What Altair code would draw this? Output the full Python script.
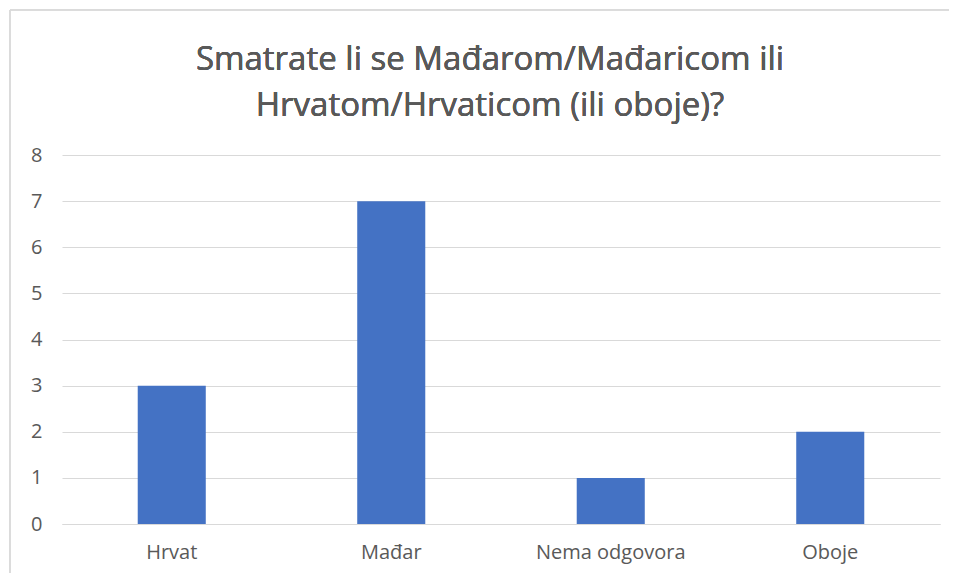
import altair as alt
import pandas as pd

categories = ["Hrvat", "Mađar", "Nema odgovora", "Oboje"]
values = [3, 7, 1, 2]
title_lines = ["Smatrate li se Mađarom/Mađaricom ili", "Hrvatom/Hrvaticom (ili oboje)?"]

df = pd.DataFrame({"cat": categories, "val": values})

FONT = "Open Sans"
GREY = "#595959"

bars = alt.Chart(df).mark_bar(color="#4472c4").encode(
    x=alt.X("cat:N", sort=categories, title=None,
            scale=alt.Scale(paddingInner=0.69, paddingOuter=0.345),
            axis=alt.Axis(labelAngle=0, labelFontSize=20, labelColor=GREY, labelFont=FONT,
                          labelFontWeight="normal", grid=False,
                          ticks=False, domainColor="#d9d9d9", labelPadding=18)),
    y=alt.Y("val:Q", title=None,
            scale=alt.Scale(domain=[0, 8]),
            axis=alt.Axis(values=list(range(0, 9)), labelFontSize=20, labelColor=GREY, labelFont=FONT,
                          labelFontWeight="normal",
                          ticks=False, domain=False, gridColor="#d9d9d9", labelPadding=20)),
)

title = alt.Chart(df).mark_text(
    font=FONT, fontSize=33, color=GREY, fontWeight="normal",
    align="center", baseline="alphabetic", lineHeight=46
).encode(
    x=alt.value(428), y=alt.value(-85), text=alt.value(title_lines)
)

border_top = alt.Chart(df).mark_rule(color="#d9d9d9").encode(
    x=alt.value(-52), x2=alt.value(900), y=alt.value(-145)
)
border_left = alt.Chart(df).mark_rule(color="#d9d9d9").encode(
    x=alt.value(-52), y=alt.value(-145), y2=alt.value(430)
)

chart = alt.layer(border_top, border_left, bars, title).properties(
    width=878, height=369,
    background="white",
    autosize=alt.AutoSizeParams(type="none"),
    padding={"left": 54, "top": 147, "right": 9, "bottom": 49},
).configure_view(stroke="transparent", strokeWidth=0)

chart.save("out.html", embed_options={"renderer": "svg", "actions": False})
